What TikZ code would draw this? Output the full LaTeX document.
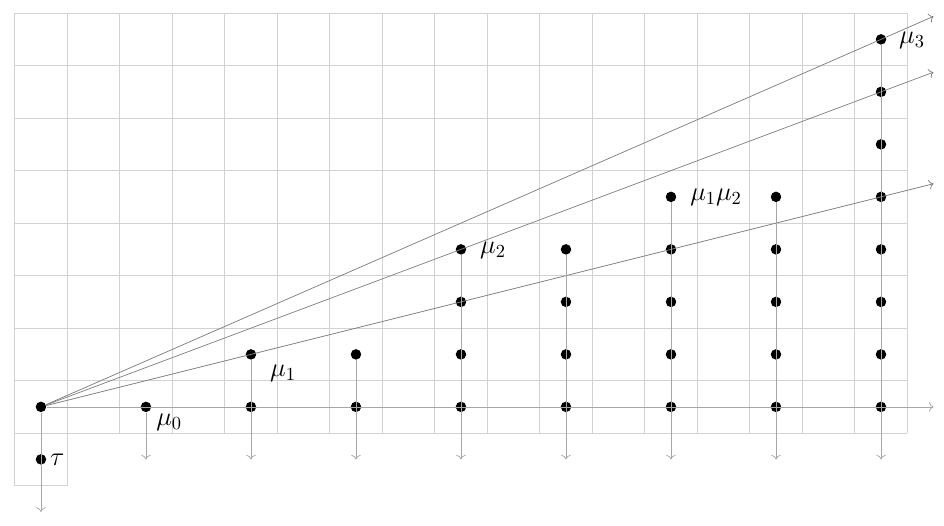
\documentclass[tikz,border=0pt]{standalone}
\usepackage{tikz}
\usetikzlibrary{arrows.meta, positioning, calc}
\tikzset{
  dot/.style={circle, fill=black, inner sep=0pt, minimum size=0.2cm},
  arr/.style={->, gray},
  drop/.style={->, gray!70},
  gridline/.style={gray!35, thin},
  lbl/.style={inner sep=0pt, anchor=west, font=\Large},
}
\begin{document}
\begin{tikzpicture}
  \useasboundingbox (-0.78,-2.25) rectangle (17.2,7.75);
  \draw[gridline, shift={(-0.5,-0.5)}] (0,0) grid (17,8);
  \draw[gridline] (-0.5,-1.5) rectangle (0.5,-0.5);
  \node[dot] (o) at (0,0) {};
  \node[dot] (t) at (0,-1) {};
  \foreach \x/\h in {2/0,4/1,6/1,8/3,10/3,12/4,14/4,16/7} {
    \foreach \y in {0,...,\h} {
      \node[dot] (d\x-\y) at (\x,\y) {};
    }
  }
  \coordinate (bt) at (0,-2);
  \coordinate (xe) at (17,0);
  \coordinate (r1) at (17,4.25);
  \coordinate (r2) at (17,6.375);
  \coordinate (r3) at (17,7.4375);
  \draw[drop] (o) -- (bt);
  \draw[drop] (o) -- (xe);
  \draw[arr] (o) -- (r1);
  \draw[arr] (o) -- (r2);
  \draw[arr] (o) -- (r3);
  \foreach \x/\h in {2/0,4/1,6/1,8/3,10/3,12/4,14/4,16/7} {
    \coordinate (b\x) at (\x,-1);
    \draw[drop] (d\x-\h) -- (b\x);
  }
  \node[lbl] (ltau) at (0.17,-1) {$\tau$};
  \node[lbl] (lmu0) at (2.19,-0.3) {$\mu_0$};
  \node[lbl] (lmu1) at (4.36,0.64) {$\mu_1$};
  \node[lbl] (lmu2) at (8.36,2.98) {$\mu_2$};
  \node[lbl] (lmu12) at (12.36,3.99) {$\mu_1\mu_2$};
  \node[lbl] (lmu3) at (16.34,6.98) {$\mu_3$};
\end{tikzpicture}
\end{document}
